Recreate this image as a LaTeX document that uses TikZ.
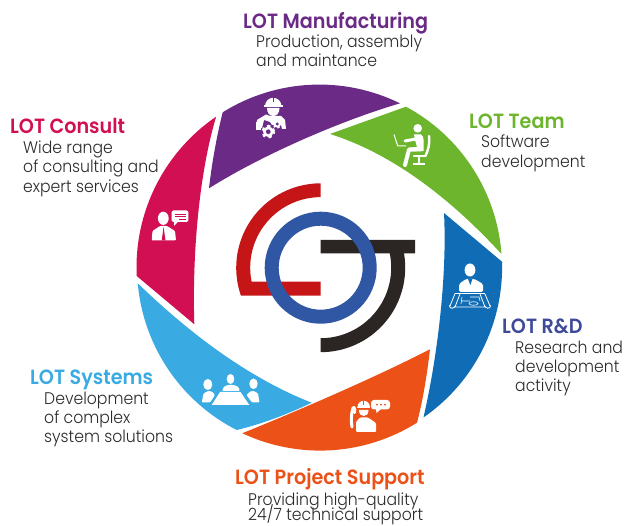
\documentclass[tikz,border=0pt]{standalone}
\usepackage{fontspec}
\setmainfont{Poppins}[FakeStretch=0.93,UprightFont={* Light},BoldFont={* SemiBold}]
\definecolor{cpurple}{HTML}{6A2A85}
\definecolor{cgreen}{HTML}{6DB52D}
\definecolor{cblue}{HTML}{106DB5}
\definecolor{crd}{HTML}{3F4A9A}
\definecolor{corange}{HTML}{EC5118}
\definecolor{csky}{HTML}{39ABE2}
\definecolor{cpink}{HTML}{D20F53}
\definecolor{lred}{HTML}{C51516}
\definecolor{lblue}{HTML}{2F57A3}
\definecolor{lblack}{HTML}{2B2523}
\definecolor{ctext}{HTML}{2B2B2B}
\tikzset{
 head/.style={anchor=base west,inner sep=0pt,font=\fontsize{20.6}{21}\selectfont\bfseries},
 body/.style={anchor=base west,inner sep=0pt,text=ctext,font=\fontsize{16.85}{17}\selectfont},
 icoline/.style={draw=white,line width=0.8pt},
}
\newcommand{\gearicon}[4]{% x y r colour
 \draw[white,line width=#3*0.42pt,dash pattern=on #3*0.5pt off #3*0.48pt] (#1,#2) circle[radius=#3*0.85pt];
 \fill[white] (#1,#2) circle[radius=#3*0.8pt];
 \fill[#4] (#1,#2) circle[radius=#3*0.36pt];
}
\begin{document}
\begin{tikzpicture}[x=1pt,y=-1pt]
\useasboundingbox (0,0) rectangle (627,526);
% sectors
\fill[cpurple] (222.7,112.3) arc[start angle=122,end angle=63.8,radius=182.5pt]
  .. controls (340,121) and (262,155) .. (209,188.3)
  .. controls (212,162) and (217,135) .. cycle;
\fill[cgreen] (406,106.7) arc[start angle=61.7,end angle=4.2,radius=182.5pt]
  .. controls (444.5,192) and (387,152) .. (330,134) -- cycle;
\fill[cblue] (502,261.7) arc[start angle=1.8,end angle=-55.3,radius=182.5pt]
  .. controls (439,350) and (447,270) .. (444,213) -- cycle;
\fill[corange] (417,422.7) arc[start angle=-57.9,end angle=-115.2,radius=182.5pt]
  .. controls (290,414) and (370,380) .. (430,349.3)
  .. controls (427,375) and (423,400) .. cycle;
\fill[csky] (236.7,430) arc[start angle=-117,end angle=-175,radius=182.5pt]
  .. controls (195.4,339) and (253.6,380) .. (311.7,402.7)
  .. controls (288,414) and (262,424) .. cycle;
\fill[cpink] (136.7,276) arc[start angle=-177.3,end angle=-235.7,radius=182.5pt]
  .. controls (200,170) and (192,250) .. (194.3,324.3) -- cycle;
% logo
\fill[lred] (320.7,183.3) arc[start angle=90,end angle=199.3,radius=84.5pt]
  -- (320.7,295.7) -- (320.7,281.7) -- (251.6,281.7)
  arc[start angle=191.5,end angle=90,radius=70.5pt] -- cycle;
\fill[lblack] (320.7,240) -- (415,240) -- (415,253.3) -- (404,253.3)
  arc[start angle=9.8,end angle=-90,radius=84.5pt] -- (320.7,338.2)
  arc[start angle=-90,end angle=11.7,radius=70.5pt] -- (320.7,253.3) -- cycle;
\draw[lblue,line width=14pt] (320.7,267.7) circle[radius=49pt];
% purple worker icon
\fill[white] (265,106) arc[start angle=180,end angle=0,radius=8.2pt] -- cycle;
\fill[white] (264,105.5) rectangle (282.5,107);
\fill[cpurple] (272.5,97) rectangle (274.3,102);
\fill[white] (267,108) -- (279.5,108) .. controls (279.5,113) and (277,116) .. (273.3,116) .. controls (269.5,116) and (267,113) .. cycle;
\fill[white] (266,114.5) -- (270,116) -- (277,116) -- (281,116) -- (285,120) -- (286,129) -- (282,129) -- (280,121)
 -- (280,125) -- (272,125) -- (270,122) -- (264,120) -- (262,128) -- (256,129) -- (257,120) -- cycle;
\fill[white] (256,122) rectangle (261,130);
\gearicon{268.3}{131.7}{6.6}{cpurple}
\gearicon{277.3}{124}{4.4}{cpurple}
% green person icon
\fill[white] (417.7,128.3) circle[radius=4.3pt];
\draw[white,line width=1pt,line join=round] (394,134.5) -- (397.7,146) -- (406,146);
\draw[white,line width=3pt,line cap=round,line join=round] (405,141) -- (416,139);
\fill[white] (414,134.5) -- (421,134.5) .. controls (424,136) and (424,141) .. (423.5,151) -- (409,151.5) -- (409,148) -- (417,147) -- (415,140) -- cycle;
\draw[white,line width=4pt,line cap=round,line join=round] (420,149.5) -- (409,149.5) -- (405,165);
\draw[white,line width=2.4pt,line cap=round] (429,136) .. controls (430,145) and (428,150) .. (425.5,156);
\draw[white,line width=2.2pt,line cap=round] (414,156) -- (425,156);
\draw[white,line width=1.6pt] (419,157) -- (419,163);
\fill[white] (413,163) rectangle (425,165);
% blue engineer icon
\fill[white] (470,270) ellipse[x radius=5.4pt,y radius=6.5pt];
\fill[white,rounded corners=1.5pt] (459,292) -- (459,284) -- (466,279) -- (474.5,279) -- (483,284) -- (483,292) -- cycle;
\fill[cblue] (468,279) -- (472.5,279) -- (470.3,285) -- cycle;
\draw[icoline] (455,293.5) -- (450,306) (460,294) -- (455,307) -- (485,307) -- (480,294) (485,294) -- (490,306);
\draw[icoline] (455,293.5) -- (485,293.5);
\draw[icoline,rounded corners=1.5pt] (450,305) -- (449,307.5) -- (454,308.5) -- (455,306);
\draw[icoline,rounded corners=1.5pt] (490,305) -- (491,307.5) -- (486,308.5) -- (485,306);
\draw[white,line width=0.6pt] (462,297) -- (461,304) (462,301) -- (470,301) (470,297) -- (479,297) -- (480,301);
\draw[white,line width=0.6pt] (473.5,303.5) ellipse[x radius=4.5pt,y radius=1.8pt];
% orange worker icon
\fill[white] (357.5,407) arc[start angle=180,end angle=0,radius=6.2pt] -- cycle;
\fill[white] (357,407) rectangle (370,408.5);
\fill[corange] (362.8,401) rectangle (364.4,405);
\fill[white] (359,410) -- (368.5,410) .. controls (368.5,414) and (366.5,416) .. (363.7,416) .. controls (361,416) and (359,414) .. cycle;
\fill[white,rounded corners=1pt] (356,432) -- (356,422) -- (360,417.5) -- (368,417.5) -- (376,423) -- (376,432) -- cycle;
\draw[white,line width=3pt,line cap=round,line join=round] (352,427) .. controls (351,420) and (351,415) .. (353,408) -- (355,409);
\fill[white,rounded corners=1.5pt] (354,405) -- (356,408) -- (356,414) -- (353,414) -- (352,408) -- cycle;
\fill[white,rounded corners=3pt] (371,400) rectangle (390,409.5);
\fill[white] (376,409) -- (376.5,413) -- (381,409) -- cycle;
\fill[corange] (377,404.7) circle[radius=1pt] (381,404.7) circle[radius=1pt] (385,404.7) circle[radius=1pt];
% sky meeting icon
\fill[white] (207.8,384.5) ellipse[x radius=4.5pt,y radius=5.5pt];
\fill[white,rounded corners=1pt] (201.7,402.5) -- (203.5,393.5) -- (208,391) -- (212,391.5) -- (215,395) -- (210,402.5) -- cycle;
\fill[white] (253.5,383.8) ellipse[x radius=4.2pt,y radius=5.3pt];
\fill[white,rounded corners=1pt] (259.5,402.5) -- (258,393.5) -- (254,391) -- (250,391.5) -- (246.5,395) -- (252,402.5) -- cycle;
\fill[white] (230.5,379) ellipse[x radius=3.8pt,y radius=5pt];
\fill[white,rounded corners=1pt] (222,391) -- (224,386.5) -- (228,385) -- (233.5,385) -- (238,386.5) -- (240,391) -- cycle;
\fill[white] (220,392) -- (240.5,392) -- (249.3,405) -- (211.7,405) -- cycle;
% pink adviser icon
\fill[white] (163.3,218.3) ellipse[x radius=5.4pt,y radius=6.6pt];
\fill[white,rounded corners=1pt] (151.7,240.5) -- (152.5,231) -- (160,226) -- (167,226) -- (175,231) -- (176,240.5) -- cycle;
\fill[cpink] (163.6,227) -- (165.5,240.5) -- (161.7,240.5) -- cycle;
\fill[white,rounded corners=1.5pt] (171.7,210.5) rectangle (188.3,222);
\fill[white] (174,221) -- (174,226) -- (179,221) -- cycle;
\draw[cpink,line width=0.9pt] (174.5,214) -- (185.5,214) (174.5,216.8) -- (185.5,216.8) (179,219.5) -- (185.5,219.5);
% texts
\node[head,text=cpurple] (t1) at (243,28.5) {LOT Manufacturing};
\node[body] (t1a) at (256,48) {Production, assembly};
\node[body] (t1b) at (256,67) {and maintance};
\node[head,text=cgreen] (t2) at (469,128.5) {LOT Team};
\node[body] (t2a) at (481,148) {Software};
\node[body] (t2b) at (481,167.5) {development};
\node[head,text=crd] (t3) at (502,333.5) {LOT R\&D};
\node[body] (t3a) at (515,354) {Research and};
\node[body] (t3b) at (515,373) {development};
\node[body] (t3c) at (515,392) {activity};
\node[head,text=corange] (t4) at (235,485) {LOT Project Support};
\node[body] (t4a) at (248,505.5) {Providing high-quality};
\node[body] (t4b) at (248,521) {24/7 technical support};
\node[head,text=csky] (t5) at (30,384.5) {LOT Systems};
\node[body] (t5a) at (44,405) {Development};
\node[body] (t5b) at (44,424) {of complex};
\node[body] (t5c) at (44,443) {system solutions};
\node[head,text=cpink] (t6) at (10,134) {LOT Consult};
\node[body] (t6a) at (23,154) {Wide range};
\node[body] (t6b) at (23,173) {of consulting and};
\node[body] (t6c) at (23,193) {expert services};
\end{tikzpicture}
\end{document}
